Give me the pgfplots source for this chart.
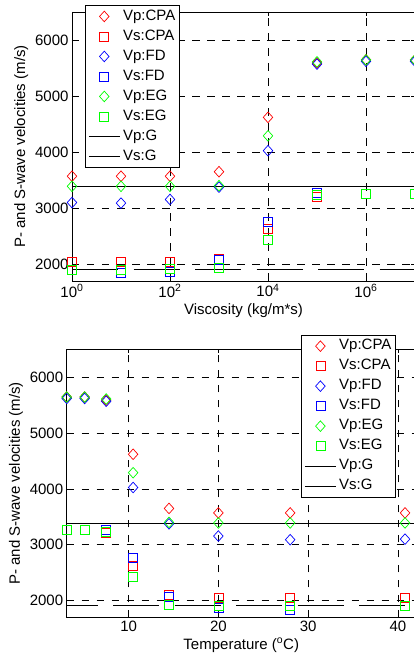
\documentclass[border=0pt]{standalone}
\usepackage{fontspec}
\setmainfont{Liberation Sans}
\usepackage{pgfplots}
\usepackage{pgfplotstable}
\pgfplotsset{compat=1.18}

\definecolor{mred}{rgb}{1,0,0}
\definecolor{mblue}{rgb}{0,0,1}
\definecolor{mgreen}{rgb}{0,1,0}

% same model runs, plotted against viscosity (top) and temperature (bottom)
\pgfplotstableread{
T    eta  vpcpa vscpa vpfd vsfd vpeg vseg
3.1  1e7  5645  3260  5620 3260 5645 3260
5.1  1e6  5645  3260  5620 3260 5645 3260
7.5  1e5  5590  3205  5570 3270 5610 3230
10.5 1e4  4620  2630  4025 2760 4290 2430
14.5 1e3  3650  2095  3375 2070 3400 1930
20   1e2  3570  2050  3155 1870 3390 1910
28   1e1  3570  2050  3090 1840 3390 1900
40.8 1e0  3570  2050  3100 1905 3390 1900
}\vel

\pgfplotsset{
  velaxis/.style={
    scale only axis,
    font=\fontsize{15}{18}\selectfont,
    axis line style={black, line width=0.9pt},
    ymin=1700, ymax=6500,
    ytick={2000,3000,4000,5000,6000},
    yticklabels={2000,3000,4000,5000,6000},
    ylabel={P- and S-wave velocities (m/s)},
    grid=major,
    major grid style={black, line width=0.6pt, dash pattern=on 7.5pt off 7.5pt},
    tick align=inside, major tick length=4pt,
    tick style={black, line width=0.6pt},
    clip=false,
    legend cell align=left,
    legend image code/.code={
      \draw[mark repeat=2,mark phase=2,#1] plot coordinates {(0pt,0pt) (15.5pt,0pt) (31pt,0pt)};
    },
    legend style={draw=black, line width=0.9pt, fill=white,
      inner xsep=3pt, inner ysep=1pt, column sep=2pt,
      font=\fontsize{15}{18}\selectfont,
      nodes={inner xsep=1pt, inner ysep=3pt, text height=10.8pt, text depth=3.2pt}},
  },
  pd/.style={only marks, mark=diamond, mark size=5.3pt, line width=0.7pt, color=#1, mark options={solid, xscale=1.2}},
  sq/.style={only marks, mark=square, mark size=4.5pt, line width=0.7pt, color=#1, mark options={solid}},
}

\begin{document}
\begin{tikzpicture}
% top: against viscosity
\begin{axis}[velaxis,
  at={(72pt,381pt)}, anchor=south west,
  width=343pt, height=269pt,
  xmode=log, xmin=1, xmax=1e7,
  xtick={1,100,1e4,1e6},
  xticklabels={10\textsuperscript{0},10\textsuperscript{2},10\textsuperscript{4},10\textsuperscript{6}},
  xminorticks=false,
  xlabel={Viscosity (kg/m*s)},
  legend style={at={(axis description cs:0.038,1.026)}, anchor=north west},
]
\addplot[pd=mred]   table[x=eta, y=vpcpa] {\vel};
\addplot[sq=mred]   table[x=eta, y=vscpa] {\vel};
\addplot[pd=mblue]  table[x=eta, y=vpfd] {\vel};
\addplot[sq=mblue]  table[x=eta, y=vsfd] {\vel};
\addplot[pd=mgreen] table[x=eta, y=vpeg] {\vel};
\addplot[sq=mgreen] table[x=eta, y=vseg] {\vel};
\addplot[black, line width=0.6pt] coordinates {(1,3390) (1e7,3390)};
\addplot[black, line width=0.6pt, dash pattern=on 46pt off 15.5pt] coordinates {(1,1910) (1e7,1910)};
\legend{Vp:CPA,Vs:CPA,Vp:FD,Vs:FD,Vp:EG,Vs:EG,Vp:G,Vs:G}
\end{axis}

% bottom: against temperature
\begin{axis}[velaxis,
  at={(66.7pt,44.7pt)}, anchor=south west,
  width=349.1pt, height=268pt,
  xmin=3.1, xmax=42,
  xtick={10,20,30,40},
  xticklabels={10,20,30,40},
  xlabel={Temperature (\textsuperscript{o}C)},
  legend style={at={(axis description cs:0.943,1.0545)}, anchor=north east},
]
\addplot[pd=mred]   table[x=T, y=vpcpa] {\vel};
\addplot[sq=mred]   table[x=T, y=vscpa] {\vel};
\addplot[pd=mblue]  table[x=T, y=vpfd] {\vel};
\addplot[sq=mblue]  table[x=T, y=vsfd] {\vel};
\addplot[pd=mgreen] table[x=T, y=vpeg] {\vel};
\addplot[sq=mgreen] table[x=T, y=vseg] {\vel};
\addplot[black, line width=0.6pt] coordinates {(3.1,3390) (42,3390)};
\addplot[black, line width=0.6pt, dash pattern=on 46pt off 15.5pt, dash phase=15pt] coordinates {(3.1,1910) (42,1910)};
\legend{Vp:CPA,Vs:CPA,Vp:FD,Vs:FD,Vp:EG,Vs:EG,Vp:G,Vs:G}
\end{axis}

\pgfresetboundingbox
\useasboundingbox (0pt,0pt) rectangle (414pt,662pt);
\end{tikzpicture}
\end{document}
